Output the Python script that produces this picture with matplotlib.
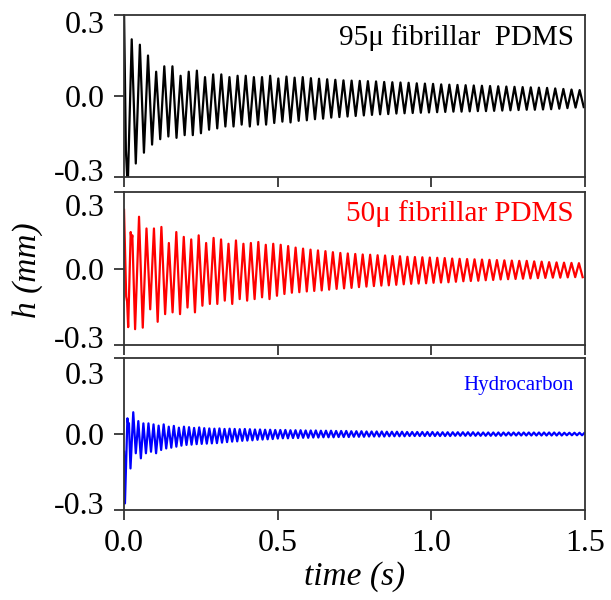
import numpy as np
import matplotlib.pyplot as plt
from matplotlib.transforms import ScaledTranslation

plt.rcParams['font.family'] = ['Liberation Serif', 'DejaVu Serif']

# peaks (hi) and troughs (lo) of each trace, one per cycle
# 95u fibrillar PDMS
t0_95 = 0.025
period_95 = 0.0265
head_t95 = [0.0, 0.006, 0.012]
head_y95 = [0.32, -0.20, -0.34]
hi_95 = [0.21, 0.19, 0.15, 0.09, 0.11, 0.11, 0.075, 0.09, 0.094, 0.07,
         0.08, 0.08, 0.07, 0.075, 0.075, 0.07, 0.07, 0.075, 0.065, 0.072,
         0.068, 0.070, 0.066, 0.064, 0.062, 0.060, 0.058, 0.057, 0.056, 0.055,
         0.054, 0.052, 0.051, 0.050, 0.049, 0.047, 0.046, 0.045, 0.043, 0.042,
         0.041, 0.040, 0.039, 0.038, 0.037, 0.036, 0.035, 0.034, 0.033, 0.032,
         0.031, 0.030, 0.028, 0.026, 0.024, 0.022]
lo_95 = [-0.25, -0.21, -0.18, -0.16, -0.15, -0.155, -0.145, -0.145, -0.138, -0.125,
         -0.12, -0.113, -0.113, -0.106, -0.113, -0.106, -0.106, -0.10, -0.095, -0.098,
         -0.092, -0.090, -0.086, -0.084, -0.080, -0.078, -0.076, -0.074, -0.072, -0.070,
         -0.068, -0.067, -0.065, -0.064, -0.063, -0.062, -0.061, -0.060, -0.059, -0.058,
         -0.058, -0.057, -0.056, -0.056, -0.055, -0.054, -0.053, -0.052, -0.051, -0.051,
         -0.050, -0.049, -0.047, -0.045, -0.043, -0.041]

# 50u fibrillar PDMS
t0_50 = 0.0488
period_50 = 0.02426
head_t50 = [0.0, 0.007, 0.010, 0.0135, 0.0217, 0.0245, 0.027, 0.036]
head_y50 = [0.23, -0.11, -0.13, -0.23, 0.143, 0.11, 0.13, -0.238]
hi_50 = [0.203, 0.157, 0.157, 0.163, 0.10, 0.143, 0.124, 0.114, 0.13, 0.10,
         0.12, 0.114, 0.097, 0.11, 0.097, 0.10, 0.104, 0.093, 0.097, 0.093,
         0.088, 0.082, 0.078, 0.074, 0.071, 0.068, 0.064, 0.061, 0.059, 0.057,
         0.055, 0.054, 0.052, 0.051, 0.049, 0.048, 0.046, 0.045, 0.044, 0.043,
         0.042, 0.041, 0.039, 0.038, 0.037, 0.036, 0.035, 0.034, 0.033, 0.032,
         0.031, 0.030, 0.030, 0.028, 0.027, 0.025, 0.024, 0.023, 0.022, 0.021]
lo_50 = [-0.232, -0.16, -0.209, -0.179, -0.172, -0.179, -0.153, -0.172, -0.146, -0.139,
         -0.139, -0.126, -0.139, -0.12, -0.126, -0.12, -0.113, -0.12, -0.107, -0.10,
         -0.095, -0.093, -0.090, -0.088, -0.086, -0.083, -0.080, -0.078, -0.076, -0.073,
         -0.071, -0.069, -0.067, -0.066, -0.064, -0.062, -0.060, -0.059, -0.058, -0.056,
         -0.055, -0.054, -0.052, -0.050, -0.049, -0.048, -0.046, -0.045, -0.043, -0.042,
         -0.041, -0.040, -0.039, -0.038, -0.037, -0.036, -0.036, -0.035, -0.034, -0.034]

# Hydrocarbon
t0_hc = 0.030
period_hc = 0.0165
head_thc = [0.0, 0.003, 0.011, 0.014, 0.016, 0.021]
head_yhc = [-0.07, -0.274, 0.062, 0.036, 0.042, -0.136]
hi_hc = [0.086, 0.051, 0.042, 0.042, 0.038, 0.033, 0.038, 0.029, 0.032, 0.025,
         0.029, 0.027, 0.024, 0.026, 0.023, 0.022, 0.021, 0.022, 0.020, 0.021,
         0.020, 0.019, 0.020, 0.019, 0.018, 0.018, 0.017, 0.017, 0.016, 0.016,
         0.016, 0.015, 0.015, 0.015, 0.014, 0.014, 0.014, 0.013, 0.013, 0.013,
         0.012, 0.012, 0.012, 0.011, 0.011, 0.011, 0.010, 0.010, 0.010, 0.010,
         0.009, 0.009, 0.009, 0.009, 0.008, 0.008, 0.008, 0.008, 0.008, 0.008,
         0.007, 0.007, 0.007, 0.007, 0.007, 0.007, 0.007, 0.007, 0.006, 0.006,
         0.006, 0.006, 0.006, 0.006, 0.006, 0.006, 0.006, 0.006, 0.006, 0.006,
         0.006, 0.006, 0.006, 0.006, 0.006, 0.005, 0.005, 0.005, 0.005, 0.005]
lo_hc = [-0.076, -0.096, -0.076, -0.07, -0.076, -0.063, -0.057, -0.054, -0.05, -0.046,
         -0.043, -0.042, -0.040, -0.039, -0.038, -0.037, -0.036, -0.034, -0.032, -0.030,
         -0.029, -0.027, -0.026, -0.025, -0.023, -0.022, -0.021, -0.020, -0.018, -0.017,
         -0.017, -0.016, -0.016, -0.015, -0.015, -0.014, -0.014, -0.013, -0.013, -0.013,
         -0.012, -0.012, -0.012, -0.011, -0.011, -0.011, -0.010, -0.010, -0.010, -0.010,
         -0.009, -0.009, -0.009, -0.009, -0.008, -0.008, -0.008, -0.008, -0.008, -0.008,
         -0.008, -0.008, -0.008, -0.007, -0.007, -0.007, -0.007, -0.007, -0.007, -0.007,
         -0.007, -0.007, -0.007, -0.006, -0.006, -0.006, -0.006, -0.006, -0.006, -0.006,
         -0.006, -0.006, -0.006, -0.006, -0.006, -0.005, -0.005, -0.005, -0.005, -0.005]

labels = ['95\u03bc fibrillar  PDMS', '50\u03bc fibrillar PDMS', 'Hydrocarbon']
label_size = [21, 21, 15]
colors = ['black', '#ff0000', '#0000ff']
x_ticks = [0.0, 0.5, 1.0, 1.5]
y_ticks = [-0.3, 0.0, 0.3]


def trace(t0, period, head_t, head_y, hi, lo):
    # one peak and one trough per cycle, evenly spaced in time
    t_hi = t0 + period * np.arange(len(hi))
    t_lo = t_hi + period / 2
    t = np.concatenate([head_t, np.column_stack([t_hi, t_lo]).ravel()])
    y = np.concatenate([head_y, np.column_stack([hi, lo]).ravel()])
    return t, y


series = [trace(t0_95, period_95, head_t95, head_y95, hi_95, lo_95),
          trace(t0_50, period_50, head_t50, head_y50, hi_50, lo_50),
          trace(t0_hc, period_hc, head_thc, head_yhc, hi_hc, lo_hc)]

fig = plt.figure(figsize=(6.11, 6.0), dpi=100)
# panel boxes in figure fractions (left, bottom, width, height)
boxes = [(0.203, 0.705, 0.7545, 0.270),
         (0.203, 0.425, 0.7545, 0.255),
         (0.203, 0.150, 0.7545, 0.2533)]
text_y = [0.86, 0.86, 0.82]
# nudge of the end tick labels (pixels): bottom label up, top label down
nudge_bottom = [7, 8, 7]
nudge_top = [7, 13, 15]

for i, (box, (t, y)) in enumerate(zip(boxes, series)):
    ax = fig.add_axes(box)
    ax.plot(t, y, color=colors[i], lw=1.6, solid_joinstyle='round')
    ax.set_xlim(0, 1.5)
    ax.set_ylim(-0.3, 0.3)
    ax.set_xticks(x_ticks)
    ax.set_yticks(y_ticks)
    ax.set_yticklabels([f'{v:.1f}' for v in y_ticks])
    ax.tick_params(direction='out', length=7, width=1.2, labelsize=23, pad=7, color='#222222')
    ylabs = ax.get_yticklabels()
    ylabs[0].set_transform(ylabs[0].get_transform() +
                           ScaledTranslation(0, nudge_bottom[i] / 100, fig.dpi_scale_trans))
    ylabs[2].set_transform(ylabs[2].get_transform() +
                           ScaledTranslation(0, -nudge_top[i] / 100, fig.dpi_scale_trans))
    for s in ax.spines.values():
        s.set_linewidth(1.3)
        s.set_color('#333333')
    if i < 2:
        ax.set_xticklabels([])
    else:
        ax.set_xticklabels([f'{v:.1f}' for v in x_ticks])
        ax.set_xlabel('time (s)', fontsize=24, style='italic', labelpad=2)
    ax.text(0.975, text_y[i], labels[i], transform=ax.transAxes, ha='right', va='center',
            fontsize=label_size[i], color=colors[i])

fig.text(0.045, 0.55, 'h (mm)', rotation=90, fontsize=24, style='italic', ha='center', va='center')

plt.savefig('out.png', dpi=100)
